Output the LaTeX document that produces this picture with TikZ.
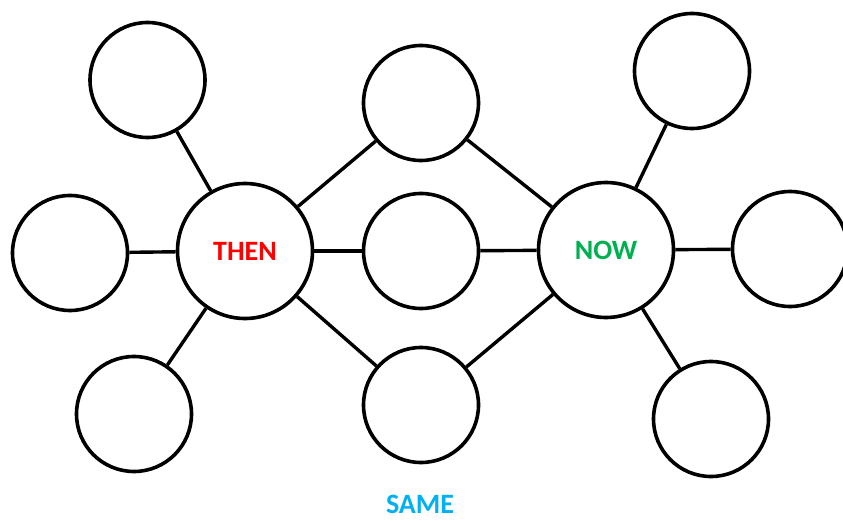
\documentclass[tikz,border=0pt]{standalone}
\usepackage{fontspec}
\setmainfont{Carlito}
\definecolor{thenred}{RGB}{255,0,0}
\definecolor{nowgreen}{RGB}{0,176,80}
\definecolor{sameblue}{RGB}{0,176,240}
\tikzset{
  bubble/.style={circle,draw=black,line width=3.6pt,fill=white,inner sep=0pt,minimum size=115pt},
  bigbubble/.style={bubble,minimum size=135pt,font=\fontsize{28}{34}\selectfont\bfseries},
  link/.style={line width=3.4pt,black}
}
\begin{document}
\begin{tikzpicture}[x=1pt,y=-1pt]
\useasboundingbox (0,0) rectangle (843,521);
\clip (0,0) rectangle (843,521);
\fill[white] (0,0) rectangle (843,521);
\node[bigbubble,text=thenred] (then) at (245,251) {THEN};
\node[bigbubble,text=nowgreen] (now) at (606,250) {NOW};
\node[bubble] (tl) at (147.5,80) {};
\node[bubble] (l) at (70,253) {};
\node[bubble] (bl) at (134,414) {};
\node[bubble] (mt) at (421,103) {};
\node[bubble] (mm) at (421,251) {};
\node[bubble] (mb) at (421,405) {};
\node[bubble] (tr) at (692,71) {};
\node[bubble] (r) at (790,249) {};
\node[bubble] (br) at (711,419) {};
\draw[link] (then) -- (tl);
\draw[link] (then) -- (l);
\draw[link] (then) -- (bl);
\draw[link] (then) -- (mt);
\draw[link] (then) -- (mm);
\draw[link] (then) -- (mb);
\draw[link] (now) -- (mt);
\draw[link] (now) -- (mm);
\draw[link] (now) -- (mb);
\draw[link] (now) -- (tr);
\draw[link] (now) -- (r);
\draw[link] (now) -- (br);
\node[text=sameblue,font=\fontsize{28}{34}\selectfont\bfseries,inner sep=0pt,anchor=base] (same) at (420,513) {SAME};
\end{tikzpicture}
\end{document}
